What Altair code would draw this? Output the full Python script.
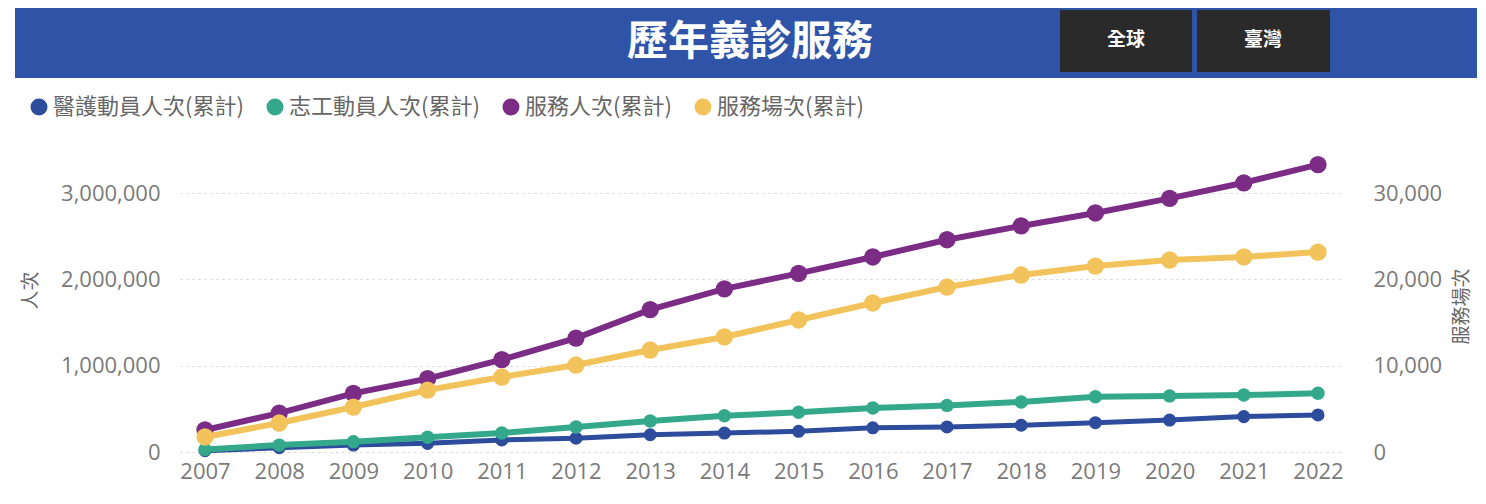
import altair as alt
import pandas as pd

# ---- data ----
YEARS = [2007, 2008, 2009, 2010, 2011, 2012, 2013, 2014, 2015, 2016, 2017, 2018, 2019, 2020, 2021, 2022]
MEDICAL = [15000, 50000, 80000, 100000, 140000, 160000, 200000, 220000, 240000, 280000, 290000, 310000, 340000, 370000, 410000, 430000]
VOLUNTEER = [30000, 80000, 120000, 170000, 220000, 290000, 360000, 420000, 460000, 510000, 540000, 580000, 640000, 650000, 660000, 680000]
SERVICE = [255000, 450000, 680000, 850000, 1070000, 1320000, 1650000, 1890000, 2070000, 2260000, 2460000, 2620000, 2770000, 2940000, 3120000, 3330000]
VENUES = [1740, 3360, 5210, 7180, 8690, 10080, 11820, 13330, 15300, 17270, 19120, 20510, 21550, 22250, 22600, 23170]

SERIES = ["醫護動員人次(累計)", "志工動員人次(累計)", "服務人次(累計)", "服務場次(累計)"]
COLORS = ["#2E4C9C", "#34A88B", "#7B2C84", "#F3C35B"]
TITLE = "歷年義診服務"
BUTTONS = ["全球", "臺灣"]
LEFT_TICKS = [0, 1000000, 2000000, 3000000]
RIGHT_TICKS = [0, 10000, 20000, 30000]

CJK = "Noto Sans CJK TC"
NUM = "Open Sans"
W, H = 1163, 302

def frame(vals, name):
    return pd.DataFrame({"year": YEARS, "value": vals, "series": name})

x_enc = alt.X("year:O",
              scale=alt.Scale(type="point", padding=0.337),
              axis=alt.Axis(labelAngle=0, title=None, domain=False, ticks=False,
                            labelPadding=9, labelFontSize=22, labelFont=NUM,
                            labelColor="#7a7a7a"))

color_enc = alt.Color("series:N", scale=alt.Scale(domain=SERIES, range=COLORS),
                      legend=alt.Legend(orient="none", legendX=-152, legendY=-54,
                                        direction="horizontal", columns=4, title=None,
                                        symbolType="circle", symbolSize=240,
                                        labelFont=CJK, labelFontSize=22,
                                        labelColor="#666666", labelOffset=3,
                                        columnPadding=20, labelLimit=400))

y_left = alt.Y("value:Q",
               scale=alt.Scale(domain=[0, 3500000]),
               axis=alt.Axis(orient="left", values=LEFT_TICKS, format=",d",
                             grid=True, gridDash=[2, 4], gridColor="#d2d2d2", gridWidth=1.2,
                             domain=False, ticks=False, labelPadding=20,
                             labelFontSize=22, labelFont=NUM, labelColor="#7a7a7a",
                             title="人次", titleFont=CJK, titleFontSize=19,
                             titleFontWeight="normal", titleColor="#666666",
                             titleAngle=-90, titleX=-150, titleY=140,
                             titleAlign="center", titleBaseline="middle"))

y_right = alt.Y("value:Q",
                scale=alt.Scale(domain=[0, 35000]),
                axis=alt.Axis(orient="right", values=RIGHT_TICKS, format=",d",
                              grid=False, domain=False, ticks=False, labelPadding=30,
                              labelFontSize=22, labelFont=NUM, labelColor="#7a7a7a",
                              title="服務場次", titleFont=CJK, titleFontSize=19,
                              titleFontWeight="normal", titleColor="#666666",
                              titleAngle=-90, titleX=118, titleY=156,
                              titleAlign="center", titleBaseline="middle"))

def series_layers(vals, name, y, width, size):
    base = alt.Chart(frame(vals, name)).encode(x=x_enc, y=y, color=color_enc)
    line = base.mark_line(strokeWidth=width)
    pts = base.mark_circle(size=size, opacity=1)
    return [line, pts]

left_group = alt.layer(
    *series_layers(MEDICAL, SERIES[0], y_left, 5, 170),
    *series_layers(VOLUNTEER, SERIES[1], y_left, 6, 180),
    *series_layers(SERVICE, SERIES[2], y_left, 6, 300),
)
right_group = alt.layer(*series_layers(VENUES, SERIES[3], y_right, 6, 300))

one = pd.DataFrame({"k": [0]})
header = alt.Chart(one).mark_rect(color="#2F53A7").encode(
    x=alt.value(-165), x2=alt.value(1300), y=alt.value(-142), y2=alt.value(-72))
btn_df = pd.DataFrame({"label": BUTTONS, "x0": [880, 1017], "x1": [1012, 1150], "xc": [946, 1083]})
buttons = alt.Chart(btn_df).mark_rect(color="#2A2A2A").encode(
    x=alt.X("x0:Q", scale=None), x2="x1:Q", y=alt.value(-140), y2=alt.value(-78))
btn_text = alt.Chart(btn_df).mark_text(font=CJK, fontSize=19, fontWeight="bold",
                                       color="white", baseline="middle").encode(
    x=alt.X("xc:Q", scale=None), y=alt.value(-110), text="label:N")
title = alt.Chart(pd.DataFrame({"t": [TITLE]})).mark_text(
    font=CJK, fontSize=41, fontWeight="bold", color="white", baseline="middle").encode(
    x=alt.value(570), y=alt.value(-107), text="t:N")

chart = alt.layer(header, buttons, btn_text, title, left_group, right_group).resolve_scale(
    y="independent", x="shared"
).properties(
    width=W, height=H,
    autosize=alt.AutoSizeParams(type="none"),
    padding={"left": 172, "top": 142, "right": 134, "bottom": 38},
    background="white",
).configure_view(stroke=None)

chart.save("out.html", embed_options={"renderer": "svg", "actions": False})
